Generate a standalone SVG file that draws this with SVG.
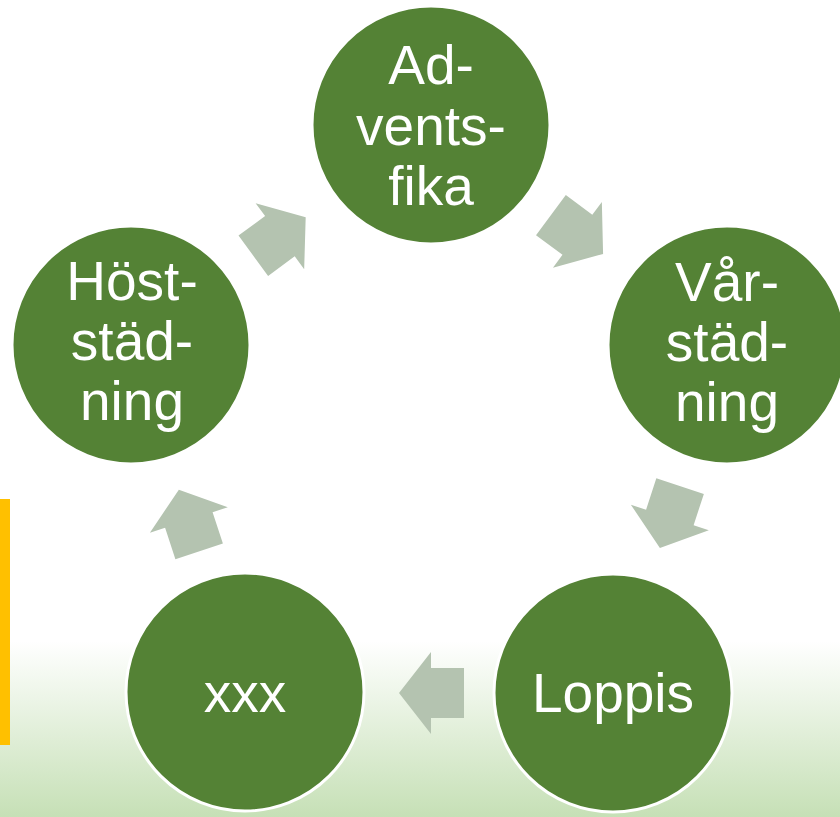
<svg xmlns="http://www.w3.org/2000/svg" width="840" height="817" viewBox="0 0 840 817">
  <defs>
    <linearGradient id="bg" x1="0" y1="0" x2="0" y2="1">
      <stop offset="0" stop-color="#ffffff"/>
      <stop offset="1" stop-color="#c6e0b6"/>
    </linearGradient>
    <path id="arrow" d="M32.5,0 L0.5,-41 L0.5,-25 L-32.5,-25 L-32.5,25 L0.5,25 L0.5,41 Z"/>
  </defs>
  <style>
    .node { fill: #548235; stroke: #ffffff; stroke-width: 3; }
    .label { fill: #ffffff; font-family: "Liberation Sans", Arial, sans-serif; font-size: 55px; text-anchor: middle; }
    .arr { fill: #b4c3b0; }
  </style>
  <rect x="0" y="0" width="840" height="817" fill="#ffffff"/>
  <rect x="0" y="641" width="840" height="176" fill="url(#bg)"/>
  <rect x="0" y="499" width="10" height="246" fill="#ffc000"/>
  <g id="connectors">
    <use href="#arrow" class="arr" transform="translate(279.5,236.5) rotate(-36.3)"/>
    <use href="#arrow" class="arr" transform="translate(577,234.5) rotate(36.6)"/>
    <use href="#arrow" class="arr" transform="translate(670,517) rotate(108.1)"/>
    <use href="#arrow" class="arr" transform="translate(431.5,693) rotate(180)"/>
    <use href="#arrow" class="arr" transform="translate(189,520.5) rotate(-108.2)"/>
  </g>
  <g id="node-adventsfika">
    <circle class="node" cx="431" cy="125" r="119"/>
    <text class="label" x="431" y="84">Ad-</text>
    <text class="label" x="431" y="145">vents-</text>
    <text class="label" x="431" y="205">fika</text>
  </g>
  <g id="node-varstadning">
    <circle class="node" cx="727" cy="345" r="119"/>
    <text class="label" x="727" y="301">Vår-</text>
    <text class="label" x="727" y="361">städ-</text>
    <text class="label" x="727" y="421">ning</text>
  </g>
  <g id="node-loppis">
    <circle class="node" cx="613" cy="693" r="119"/>
    <text class="label" x="613" y="712">Loppis</text>
  </g>
  <g id="node-xxx">
    <circle class="node" cx="245" cy="692" r="119"/>
    <text class="label" x="245" y="712">xxx</text>
  </g>
  <g id="node-hoststadning">
    <circle class="node" cx="131" cy="345" r="119"/>
    <text class="label" x="132" y="300">Höst-</text>
    <text class="label" x="132" y="360">städ-</text>
    <text class="label" x="132" y="420">ning</text>
  </g>
</svg>
